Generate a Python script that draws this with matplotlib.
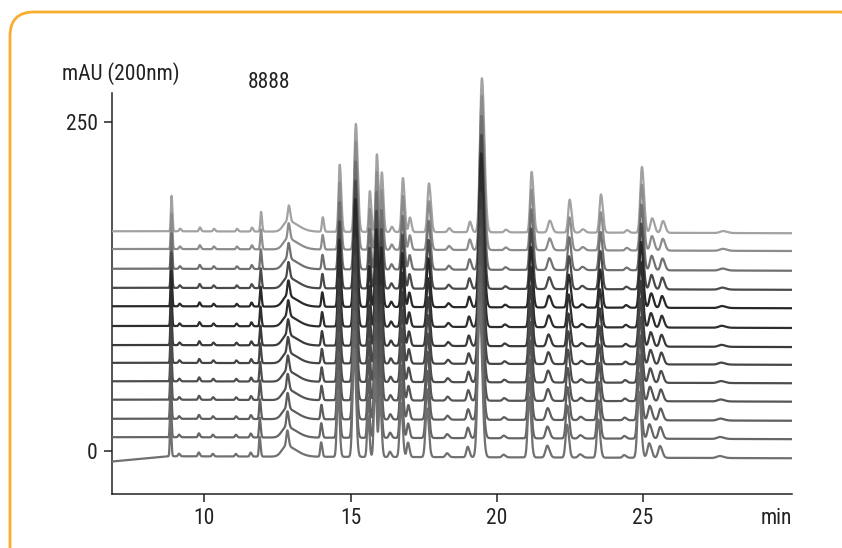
import numpy as np
import matplotlib
matplotlib.use("Agg")
import matplotlib.pyplot as plt
from matplotlib.patches import FancyBboxPatch
from matplotlib.transforms import IdentityTransform
from matplotlib import font_manager

_avail = {f.name for f in font_manager.fontManager.ttflist}
_fams = [f for f in ['Liberation Sans Narrow', 'DejaVu Sans Condensed', 'Roboto Condensed']
         if f in _avail] + ['DejaVu Sans']
plt.rcParams['font.family'] = _fams
plt.rcParams['font.stretch'] = 'condensed'

# ---------------- data ----------------
# peak table: retention time (min), height (mAU), sigma (min)
peak_rt = [8.88, 9.17, 9.85, 10.33, 11.12, 11.63, 11.94, 12.89, 14.05, 14.63,
           15.18, 15.66, 15.90, 16.07, 16.41, 16.79, 17.03, 17.68, 18.37, 19.08,
           19.49, 20.31, 21.19, 21.81, 22.49, 22.94, 23.56, 24.45, 24.96, 25.31,
           25.68, 27.73]
peak_height = [27, 2, 3, 2, 2, 3, 15, 12, 11, 51,
               82, 31, 59, 45, 4, 41, 11, 37, 3, 8,
               117, 2, 46, 9, 25, 2.5, 29, 2, 50, 11,
               9, 1.5]
peak_sigma = [0.022, 0.03, 0.03, 0.03, 0.03, 0.03, 0.025, 0.035, 0.03, 0.04,
              0.05, 0.035, 0.04, 0.04, 0.04, 0.045, 0.04, 0.05, 0.05, 0.045,
              0.065, 0.05, 0.05, 0.06, 0.05, 0.06, 0.05, 0.05, 0.055, 0.06,
              0.06, 0.1]
# broad tailing hump under the 12.9 min peak
hump_rt, hump_height, hump_sigma_left, hump_sigma_right = 12.85, 8, 0.15, 0.35

# trace baselines (mAU), bottom -> top
trace_offsets = [-4, 10.5, 24.5, 39, 53, 67, 80.5, 95, 110, 124, 138.5, 153.5, 167]
trace_colors = ['#707070', '#666666', '#5e5e5e', '#555555', '#4d4d4d', '#454545',
                '#3a3a3a', '#2e2e2e', '#282828', '#4a4a4a', '#707070', '#8c8c8c', '#a2a2a2']
# retention-time drift of each trace relative to the top trace (fraction)
trace_rt_scale = [0.996, 0.9963, 0.9967, 0.997, 0.9973, 0.9977, 0.998,
                  0.9983, 0.9987, 0.999, 0.9993, 0.9997, 1.0]
bottom_start_drift = -4.0      # bottom trace starts lower at the left edge
end_drift = -1.5               # slow downward drift at the end of the run

x_ticks = [10, 15, 20, 25]
y_ticks = [0, 250]
t_min, t_max = 6.835, 30.09

# ---------------- figure ----------------
fig = plt.figure(figsize=(8.42, 5.48), dpi=100)
ax = fig.add_axes([111.7 / 842, 1 - 494.3 / 548, (792 - 111.7) / 842, (494.3 - 69.4) / 548])

t = np.linspace(t_min, t_max, 8000)


def asym_gauss(x, mu, h, sl, sr):
    s = np.where(x < mu, sl, sr)
    return h * np.exp(-0.5 * ((x - mu) / s) ** 2)


n = len(trace_offsets)
for i in reversed(range(n)):
    sc = trace_rt_scale[i]
    y = np.zeros_like(t)
    for rt, h, s in zip(peak_rt, peak_height, peak_sigma):
        y += asym_gauss(t, rt * sc, h, s, s * 1.3)
    y += asym_gauss(t, hump_rt * sc, hump_height, hump_sigma_left, hump_sigma_right)
    y += np.interp(t, [8.85, t_max], [0, end_drift])
    if i == 0:
        y += np.interp(t, [t_min, 8.8], [bottom_start_drift, 0])
    ax.plot(t, y + trace_offsets[i], color=trace_colors[i], lw=1.6, zorder=2 + (n - i),
            solid_joinstyle='round')

ax.set_xlim(t_min, t_max)
ax.set_ylim(-32.9, 290)
ax.spines['top'].set_visible(False)
ax.spines['right'].set_visible(False)
ax.spines['left'].set_bounds(-32.9, 272)
for s in ('left', 'bottom'):
    ax.spines[s].set_linewidth(1.1)
    ax.spines[s].set_color('#222222')
ax.set_xticks(x_ticks)
ax.set_yticks(y_ticks)
ax.tick_params(axis='both', direction='out', length=6, width=1.1, color='#222222',
               labelsize=15.5, pad=4, labelcolor='#222222')

fig.text(62 / 842, 1 - 74 / 548, 'mAU (200nm)', fontsize=15.5, color='#222222',
         ha='left', va='center')
fig.text(248 / 842, 1 - 82 / 548, '8888', fontsize=15.5, color='#222222',
         ha='left', va='center')
fig.text(792 / 842, 1 - 524 / 548, 'min', fontsize=15.5, color='#222222',
         ha='right', va='baseline')

border = FancyBboxPatch((10, -30), 855, 548 - 12 + 30,
                        boxstyle='round,pad=0,rounding_size=24',
                        transform=IdentityTransform(), fill=False,
                        edgecolor='#F8AE30', linewidth=2.0, clip_on=False)
fig.add_artist(border)

fig.savefig('out.png', dpi=100)
